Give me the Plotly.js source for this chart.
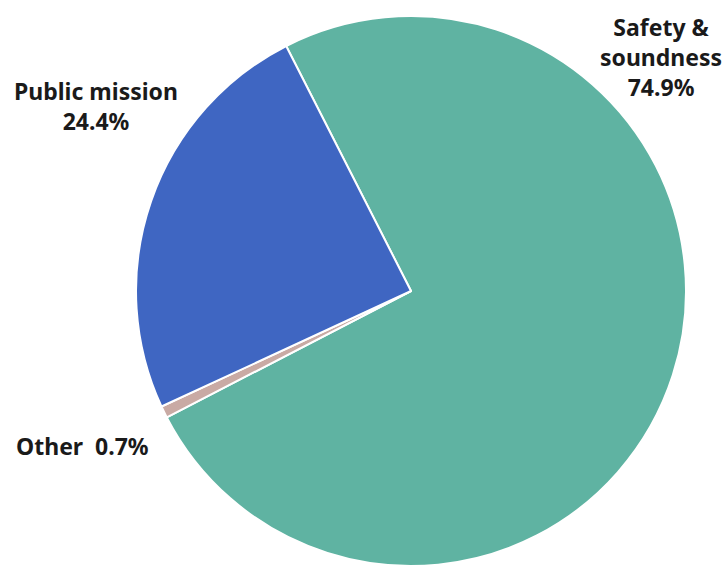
<!DOCTYPE html>
<html>
<head>
<meta charset="utf-8">
<script src="https://cdn.plot.ly/plotly-3.0.1.min.js"></script>
<style>html,body{margin:0;padding:0;background:#fff;}#chart{width:725px;height:566px;}</style>
</head>
<body>
<div id="chart"></div>
<script>
var categories = ["Safety & soundness", "Other", "Public mission"];
var shares = [74.9, 0.7, 24.4];
var sliceColors = ["#5fb3a2", "#c9aaa4", "#3f66c2"];
var labelText = ["Safety &<br>soundness<br>74.9%", "Other  0.7%", "Public mission<br>24.4%"];

var trace = {
  type: "pie",
  labels: categories,
  values: shares,
  sort: false,
  direction: "clockwise",
  rotation: -27,
  marker: {colors: sliceColors, line: {color: "#ffffff", width: 2}},
  textinfo: "none",
  hoverinfo: "label+percent",
  showlegend: false,
  domain: {x: [0.1876, 0.9462], y: [0, 0.9717]}
};

var labelPos = [[661, 57], [82, 446], [96, 106]];
var annotations = labelText.map(function (t, i) {
  return {
    text: t,
    x: labelPos[i][0] / 725,
    y: 1 - labelPos[i][1] / 566,
    xref: "paper", yref: "paper",
    xanchor: "center", yanchor: "middle",
    showarrow: false,
    align: "center",
    font: {family: "Noto Sans, Open Sans, sans-serif", size: 23, color: "#1a1a1a", weight: "bold"}
  };
});

var layout = {
  width: 725, height: 566,
  margin: {l: 0, r: 0, t: 0, b: 0},
  paper_bgcolor: "#ffffff",
  annotations: annotations
};

Plotly.newPlot("chart", [trace], layout, {displayModeBar: false});
</script>
</body>
</html>
